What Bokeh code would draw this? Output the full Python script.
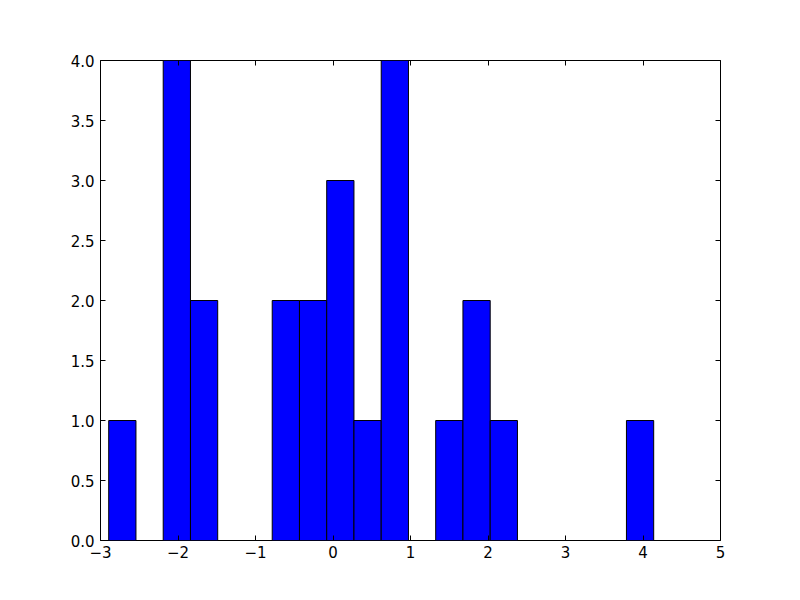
from bokeh.plotting import figure
from bokeh.models import LinearAxis, FixedTicker, Range1d
from bokeh.embed import file_html
from bokeh.resources import INLINE

# Histogram: 20 equal bins between data min and max
bin_min = -2.894
bin_max = 4.138
counts = [1, 0, 4, 2, 0, 0, 2, 2, 3, 1, 4, 0, 1, 2, 1, 0, 0, 0, 0, 1]

x_ticks = [-3, -2, -1, 0, 1, 2, 3, 4, 5]
x_tick_labels = ["\u22123", "\u22122", "\u22121", "0", "1", "2", "3", "4", "5"]
y_ticks = [0.0, 0.5, 1.0, 1.5, 2.0, 2.5, 3.0, 3.5, 4.0]
y_tick_labels = ["0.0", "0.5", "1.0", "1.5", "2.0", "2.5", "3.0", "3.5", "4.0"]

n = len(counts)
w = (bin_max - bin_min) / n
lefts = [bin_min + i * w for i in range(n)]
rights = [bin_min + (i + 1) * w for i in range(n)]

p = figure(width=792, height=592, output_backend="svg", toolbar_location=None,
           x_range=Range1d(-3, 5), y_range=Range1d(0, 4),
           frame_width=620, frame_height=480,
           min_border_left=100, min_border_right=72, min_border_top=60, min_border_bottom=52,
           x_axis_location=None, y_axis_location=None)
p.grid.visible = False
p.outline_line_color = "black"
p.outline_line_width = 1
p.background_fill_color = "white"
p.border_fill_color = "white"

p.quad(left=[l for l, c in zip(lefts, counts) if c > 0],
       right=[r for r, c in zip(rights, counts) if c > 0],
       bottom=0, top=[c for c in counts if c > 0],
       fill_color="#0000ff", line_color="black", line_width=1)

font = "DejaVu Sans"
fs = "15px"

def style(ax, show_labels):
    ax.axis_line_color = None
    ax.major_tick_in = 5
    ax.major_tick_out = 0
    ax.minor_tick_in = 0
    ax.minor_tick_out = 0
    ax.major_tick_line_color = "black"
    ax.major_label_text_font = font
    ax.major_label_text_font_size = fs
    ax.major_label_text_color = "black"
    if not show_labels:
        ax.major_label_text_font_size = "0px"
        ax.major_label_text_alpha = 0

xb = LinearAxis(ticker=FixedTicker(ticks=x_ticks))
xb.major_label_overrides = {t: l for t, l in zip(x_ticks, x_tick_labels)}
xb.major_label_standoff = 5
style(xb, True)
p.add_layout(xb, "below")

xa = LinearAxis(ticker=FixedTicker(ticks=x_ticks))
style(xa, False)
p.add_layout(xa, "above")

yl = LinearAxis(ticker=FixedTicker(ticks=y_ticks))
yl.major_label_overrides = {t: l for t, l in zip(y_ticks, y_tick_labels)}
yl.major_label_standoff = 6
style(yl, True)
p.add_layout(yl, "left")

yr = LinearAxis(ticker=FixedTicker(ticks=y_ticks))
style(yr, False)
p.add_layout(yr, "right")

open("out.html", "w").write(file_html(p, INLINE))
